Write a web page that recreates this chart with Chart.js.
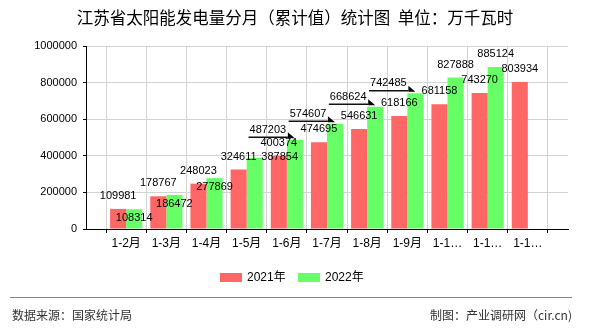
<!DOCTYPE html>
<html><head><meta charset="utf-8">
<script src="https://cdn.jsdelivr.net/npm/chart.js@4"></script>
<style>html,body{margin:0;padding:0;background:#fff}canvas{display:block}</style>
</head><body>
<canvas id="c" width="590" height="330"></canvas>
<script>
const categories = ['1-2月','1-3月','1-4月','1-5月','1-6月','1-7月','1-8月','1-9月','1-10月','1-11月','1-12月'];
const series2021 = [109981,178767,248023,324611,400374,474695,546631,618166,681158,743270,803934];
const series2022 = [108314,186472,277869,387854,487203,574607,668624,742485,827888,885124];
const yTicks = [0,200000,400000,600000,800000,1000000];
const seriesNames = ['2021年','2022年'];
const title = '江苏省太阳能发电量分月（累计值）统计图  单位：万千瓦时';
const sourceText = '数据来源：国家统计局';
const creditText = '制图：产业调研网（cir.cn)';

const RED = '#ff6666', GREEN = '#66ff66';
const FONT = "'Liberation Sans','Noto Sans CJK SC',sans-serif";
const CJK = "'Noto Sans CJK SC','Liberation Sans',sans-serif";

const labels = ['', ...categories, ''];
const pad = (arr) => [null, ...arr, ...Array(labels.length - 1 - arr.length).fill(null)];

// label placement hints for the 2022 series (library-side layout)
const greenPlacement = ['in','in','in','right','lead','lead','lead','lead','top','top'];

const decor = {
  id: 'decor',
  afterDraw(chart) {
    const ctx = chart.ctx;
    ctx.save();
    // title
    ctx.fillStyle = '#000';
    ctx.font = '16.5px ' + CJK;
    ctx.textAlign = 'center'; ctx.textBaseline = 'middle';
    ctx.fillText(title, 295, 18);
    // legend
    const leg = [[220, RED, seriesNames[0]], [298, GREEN, seriesNames[1]]];
    ctx.font = '12px ' + FONT;
    ctx.textAlign = 'left';
    leg.forEach(([x, c, t]) => {
      ctx.fillStyle = c; ctx.fillRect(x, 273, 22, 9);
      ctx.fillStyle = '#000'; ctx.fillText(t, x + 27, 278);
    });
    // footer
    ctx.strokeStyle = '#888'; ctx.lineWidth = 1;
    ctx.beginPath(); ctx.moveTo(10, 297.5); ctx.lineTo(572, 297.5); ctx.stroke();
    ctx.fillStyle = '#333';
    ctx.font = '12px ' + CJK;
    ctx.textAlign = 'left'; ctx.fillText(sourceText, 12, 315);
    ctx.textAlign = 'right'; ctx.fillText(creditText, 572, 315);
    ctx.restore();
  },
  afterDatasetsDraw(chart) {
    const ctx = chart.ctx;
    ctx.save();
    ctx.font = '11px ' + FONT;
    ctx.fillStyle = '#000';
    ctx.textAlign = 'center'; ctx.textBaseline = 'middle';
    chart.data.datasets.forEach((ds, di) => {
      const meta = chart.getDatasetMeta(di);
      meta.data.forEach((bar, i) => {
        const v = ds.data[i];
        if (v === null || v === undefined) return;
        const txt = String(v);
        const cx = bar.x, top = bar.y;
        if (di === 0) { ctx.fillText(txt, cx, top - 13); return; }
        const mode = greenPlacement[i - 1] || 'top';
        if (mode === 'top') ctx.fillText(txt, cx, top - 13);
        else if (mode === 'in') ctx.fillText(txt, cx, top + 9);
        else if (mode === 'right') ctx.fillText(txt, cx + 25, top - 1);
        else if (mode === 'lead') {
          const lx = cx - 27, w = ctx.measureText(txt).width;
          ctx.fillText(txt, lx, top - 10);
          ctx.strokeStyle = '#111'; ctx.lineWidth = 1.5;
          ctx.beginPath(); ctx.moveTo(lx - w / 2 - 1, top - 2.5); ctx.lineTo(cx - 7, top - 2.5); ctx.stroke();
          ctx.beginPath(); ctx.moveTo(cx - 7, top - 7.5); ctx.lineTo(cx, top - 1.5); ctx.lineTo(cx - 7, top - 1.5); ctx.closePath(); ctx.fill();
        }
      });
    });
    ctx.restore();
  }
};

new Chart(document.getElementById('c'), {
  type: 'bar',
  data: {
    labels,
    datasets: [
      { label: seriesNames[0], data: pad(series2021), backgroundColor: RED, barPercentage: 1, categoryPercentage: 0.8 },
      { label: seriesNames[1], data: pad(series2022), backgroundColor: GREEN, barPercentage: 1, categoryPercentage: 0.8 }
    ]
  },
  options: {
    responsive: false, animation: false,
    layout: { padding: { left: 0, right: 22, top: 46, bottom: 71 } },
    plugins: { legend: { display: false }, tooltip: { enabled: false }, title: { display: false } },
    scales: {
      x: {
        offset: false,
        grid: { color: '#d3d3d3', tickColor: '#000', tickLength: 4, drawOnChartArea: true },
        border: { color: '#000', width: 1 },
        ticks: {
          autoSkip: false, maxRotation: 0, color: '#000', padding: 3,
          font: { family: FONT, size: 12 },
          callback: function(v) { const l = this.getLabelForValue(v); return l.length > 4 ? l.slice(0, 3) + '…' : l; }
        },
        afterFit(s) { s.height = 30; }
      },
      y: {
        min: 0, max: 1000000,
        grid: { color: '#d3d3d3', tickColor: '#000', tickLength: 3 },
        border: { color: '#000', width: 1 },
        afterBuildTicks(s) { s.ticks = yTicks.map(v => ({ value: v })); },
        ticks: { color: '#000', padding: 6, font: { family: FONT, size: 11 }, callback: v => String(v) },
        afterFit(s) { s.width = 86; }
      }
    }
  },
  plugins: [decor]
});
</script>
</body></html>
